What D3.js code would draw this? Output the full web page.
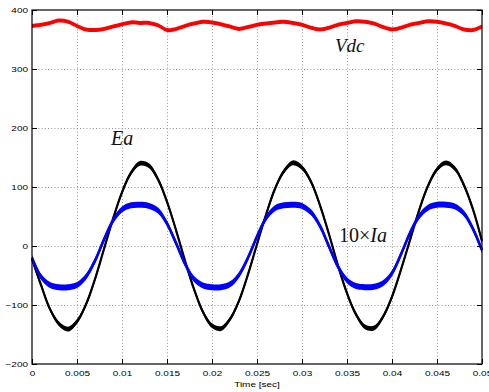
<!DOCTYPE html>
<html>
<head>
<meta charset="utf-8">
<script src="https://cdn.jsdelivr.net/npm/d3@7/dist/d3.min.js"></script>
<style>
  html, body { margin: 0; padding: 0; background: #fff; }
  svg { display: block; }
  .tick text { font-family: "Liberation Sans", Arial, Helvetica, sans-serif; font-size: 10px; fill: #000; }
</style>
</head>
<body>
<svg id="chart" width="489" height="392"></svg>
<script>
// ---- data ----
const time = d3.range(0, 51).map(i => +(i * 0.001).toFixed(3)); // seconds, 1 ms steps
const vdc = [373,375,378,382,380,373,367,366,368,372,376,379,378,378,374,366,368,373,377,380,
             379,376,372,368,371,375,377,379,380,378,375,370,367,370,375,378,381,380,377,371,
             367,370,375,378,381,380,377,373,367,366,372];
const ea  = [-22,-66,-107,-132,-141,-128,-99,-56,-5,46,91,124,140,136,113,75,27,-25,-73,-112,
             -135,-140,-124,-93,-48,3,53,97,127,141,133,109,69,20,-33,-80,-116,-137,-139,-120,
             -86,-40,10,60,102,130,141,131,103,62,8];
const ia10 = [-20,-52,-66,-70,-70,-66,-52,-25,11,43,62,69,70,68,60,38,5,-30,-56,-67,
              -70,-70,-65,-49,-20,16,47,64,69,70,68,57,34,-1,-35,-58,-68,-70,-69,-63,
              -46,-14,22,50,65,70,70,67,55,29,-7];
const xTicks = [0,0.005,0.01,0.015,0.02,0.025,0.03,0.035,0.04,0.045,0.05];
const xTickLabels = ["0","0.005","0.01","0.015","0.02","0.025","0.03","0.035","0.04","0.045","0.05"];
const yTicks = [-200,-100,0,100,200,300,400];
const yTickLabels = ["\u2212200","\u2212100","0","100","200","300","400"];
const xTitle = "Time [sec]";

// ---- layout ----
const L = 32, R = 482, T = 10, B = 364;
const SQ = 0.8; // vertical squash of the sans-serif texts, as in the picture
const svg = d3.select("#chart");
const x = d3.scaleLinear().domain([0, 0.05]).range([L, R]);
const y = d3.scaleLinear().domain([-200, 400]).range([B, T]);

// grid
const grid = svg.append("g").attr("stroke", "#7a7a7a").attr("stroke-width", 0.8)
  .attr("stroke-dasharray", "1,2.2");
grid.selectAll(".gx").data(xTicks.slice(1, -1)).join("line")
  .attr("x1", d => x(d) + 0.5).attr("x2", d => x(d) + 0.5).attr("y1", T).attr("y2", B);
grid.selectAll(".gy").data(yTicks.slice(1, -1)).join("line")
  .attr("y1", d => y(d) + 0.5).attr("y2", d => y(d) + 0.5).attr("x1", L).attr("x2", R);

// series drawn as noisy bands (vertical spread) plus a stroke
const pts = (vals) => vals.map((v, i) => [time[i], v]);
const curve = d3.curveCatmullRom.alpha(0.5);
function band(vals, color, spread, sw) {
  const data = pts(vals);
  svg.append("path").datum(data)
    .attr("fill", color)
    .attr("d", d3.area().curve(curve).x(d => x(d[0])).y0(d => y(d[1]) + spread).y1(d => y(d[1]) - spread));
  svg.append("path").datum(data)
    .attr("fill", "none").attr("stroke", color).attr("stroke-width", sw).attr("stroke-linejoin", "round")
    .attr("d", d3.line().curve(curve).x(d => x(d[0])).y(d => y(d[1])));
}
band(vdc, "#ff0000", 2.0, 2);
band(ea, "#000000", 2.4, 2.2);
band(ia10, "#0000ff", 3.0, 2.6);

// axes (ticks inward on all sides)
const xb = svg.append("g").attr("transform", `translate(0,${B})`)
  .call(d3.axisBottom(x).tickValues(xTicks).tickFormat((d, i) => xTickLabels[i]).tickSizeInner(-5).tickSizeOuter(0).tickPadding(7.5));
const xt = svg.append("g").attr("transform", `translate(0,${T})`)
  .call(d3.axisTop(x).tickValues(xTicks).tickFormat("").tickSizeInner(-5).tickSizeOuter(0));
const yl = svg.append("g").attr("transform", `translate(${L},0)`)
  .call(d3.axisLeft(y).tickValues(yTicks).tickFormat((d, i) => yTickLabels[i]).tickSizeInner(-5).tickSizeOuter(0).tickPadding(4));
const yr = svg.append("g").attr("transform", `translate(${R},0)`)
  .call(d3.axisRight(y).tickValues(yTicks).tickFormat("").tickSizeInner(-5).tickSizeOuter(0));
[xb, xt, yl, yr].forEach(g => { g.select(".domain").remove(); g.selectAll(".tick line").attr("stroke", "#000"); });
xb.selectAll(".tick text").attr("transform", `scale(1,${SQ})`);
yl.selectAll(".tick text").attr("transform", `scale(1,${SQ})`);

// box
svg.append("rect").attr("x", L).attr("y", T).attr("width", R - L).attr("height", B - T)
  .attr("fill", "none").attr("stroke", "#000").attr("stroke-width", 1.2);

// axis title
svg.append("text").attr("transform", `translate(${(L + R) / 2},387) scale(1,${SQ})`).attr("text-anchor", "middle")
  .attr("font-family", "Liberation Sans, Arial, Helvetica, sans-serif").attr("font-size", 10).text(xTitle);

// series labels
const serif = "Liberation Serif, Times New Roman, DejaVu Serif, serif";
svg.append("text").attr("x", 335).attr("y", 52).attr("font-family", serif).attr("font-size", 19)
  .attr("font-style", "italic").attr("fill", "#111").text("Vdc");
svg.append("text").attr("x", 111).attr("y", 144.5).attr("font-family", serif).attr("font-size", 20)
  .attr("font-style", "italic").attr("fill", "#111").text("Ea");
const t3 = svg.append("text").attr("x", 339).attr("y", 242).attr("font-family", serif).attr("font-size", 20).attr("fill", "#111");
t3.append("tspan").text("10\u00d7");
t3.append("tspan").attr("font-style", "italic").text("Ia");
</script>
</body>
</html>
